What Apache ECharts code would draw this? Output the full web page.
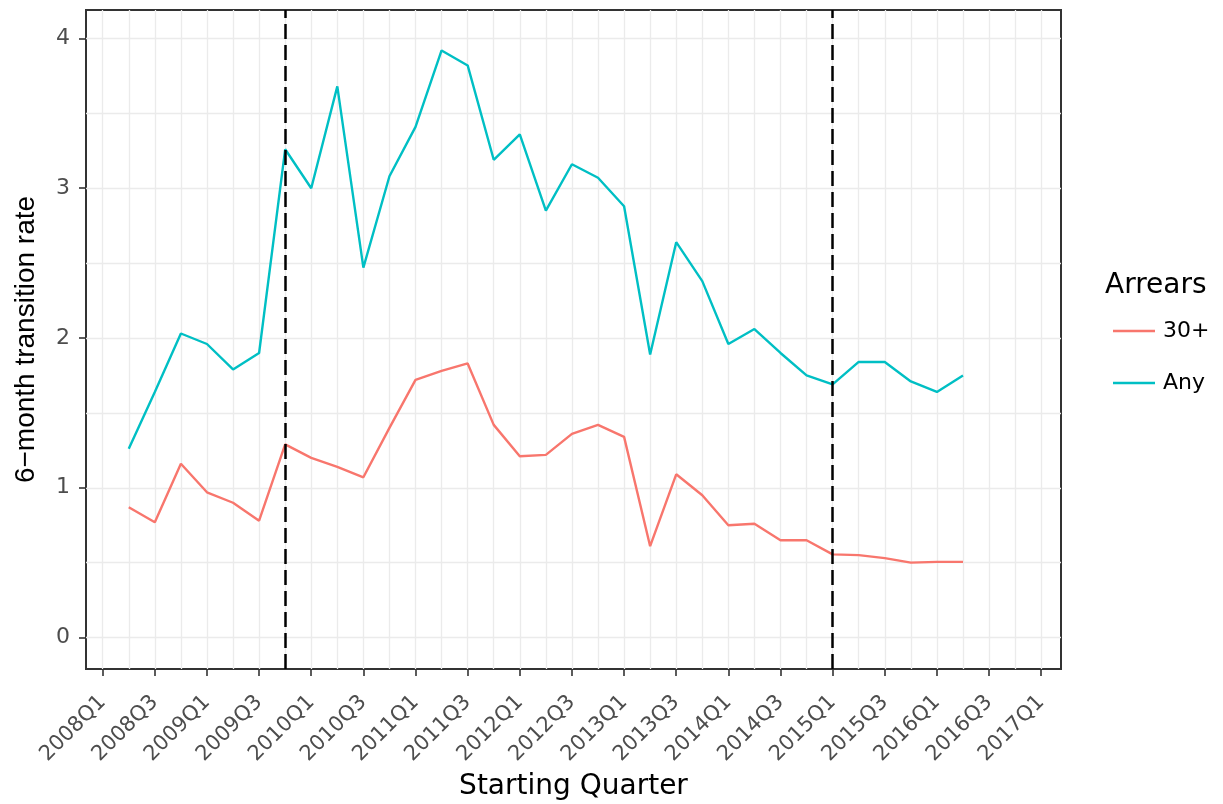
<!DOCTYPE html>
<html>
<head>
<meta charset="utf-8">
<script src="https://cdn.jsdelivr.net/npm/echarts@6/dist/echarts.min.js"></script>
<style>
  html, body { margin: 0; padding: 0; background: #ffffff; }
  #chart { width: 1223px; height: 804px; }
</style>
</head>
<body>
<div id="chart"></div>
<script>
// Starting quarter of each cohort
const quarters = [
  '2008Q2','2008Q3','2008Q4',
  '2009Q1','2009Q2','2009Q3','2009Q4',
  '2010Q1','2010Q2','2010Q3','2010Q4',
  '2011Q1','2011Q2','2011Q3','2011Q4',
  '2012Q1','2012Q2','2012Q3','2012Q4',
  '2013Q1','2013Q2','2013Q3','2013Q4',
  '2014Q1','2014Q2','2014Q3','2014Q4',
  '2015Q1','2015Q2','2015Q3','2015Q4',
  '2016Q1','2016Q2'
];

// 6-month transition rate, loans entering 30+ days arrears
const arrears30 = [
  0.87, 0.77, 1.16,
  0.97, 0.90, 0.78, 1.29,
  1.20, 1.14, 1.07, 1.40,
  1.72, 1.78, 1.83, 1.42,
  1.21, 1.22, 1.36, 1.42,
  1.34, 0.61, 1.09, 0.95,
  0.75, 0.76, 0.65, 0.65,
  0.555, 0.55, 0.53, 0.50,
  0.505, 0.505
];

// 6-month transition rate, loans entering any arrears
const arrearsAny = [
  1.26, 1.64, 2.03,
  1.96, 1.79, 1.90, 3.26,
  3.00, 3.68, 2.47, 3.08,
  3.41, 3.92, 3.82, 3.19,
  3.36, 2.85, 3.16, 3.07,
  2.88, 1.89, 2.64, 2.38,
  1.96, 2.06, 1.90, 1.75,
  1.69, 1.84, 1.84, 1.71,
  1.64, 1.75
];

// Labelled quarters on the x axis
const tickLabels = [
  '2008Q1','2008Q3','2009Q1','2009Q3','2010Q1','2010Q3','2011Q1','2011Q3',
  '2012Q1','2012Q3','2013Q1','2013Q3','2014Q1','2014Q3','2015Q1','2015Q3',
  '2016Q1','2016Q3','2017Q1'
];

// Labelled values on the y axis and the finer grid between them
const yTicks = [0, 1, 2, 3, 4];
const yGrid = [0, 0.5, 1, 1.5, 2, 2.5, 3, 3.5, 4];

// Quarters marked with dashed reference lines
const breakQuarters = ['2009Q4', '2015Q1'];

const seriesNames = ['30+', 'Any'];

// Quarter label -> number of quarters since 2008Q1
function qIndex(label) {
  const year = parseInt(label.slice(0, 4), 10);
  const q = parseInt(label.slice(5), 10);
  return (year - 2008) * 4 + (q - 1);
}

const FONT = 'DejaVu Sans';
const FONT_V = 'Liberation Sans';
const labelByIndex = {};
tickLabels.forEach(l => { labelByIndex[qIndex(l)] = l; });
const majorX = tickLabels.map(qIndex);
const minorX = [];
for (let i = majorX[0]; i <= majorX[majorX.length - 1]; i++) minorX.push(i);

const X_MIN = -0.64, X_MAX = 36.76;
const Y_MIN = -0.21, Y_MAX = 4.19;

const chart = echarts.init(document.getElementById('chart'), null, { renderer: 'canvas' });

const option = {
  animation: false,
  backgroundColor: '#ffffff',
  textStyle: { fontFamily: FONT },
  title: {
    text: 'Arrears',
    left: 1105,
    top: 272,
    padding: 0,
    textStyle: { fontFamily: FONT, fontSize: 28, fontWeight: 'normal', color: '#000000' }
  },
  legend: {
    orient: 'vertical',
    left: 1113,
    top: 320,
    itemWidth: 42,
    itemHeight: 2.5,
    itemGap: 30,
    icon: 'rect',
    padding: 0,
    data: seriesNames,
    textStyle: { fontFamily: FONT, fontSize: 22, color: '#000000', lineHeight: 22, padding: [0, 0, 0, 3] }
  },
  grid: {
    left: 86, right: 162, top: 10, bottom: 135,
    containLabel: false,
    outerBoundsMode: 'none',
    show: true,
    borderColor: '#333333',
    borderWidth: 2,
    backgroundColor: 'transparent'
  },
  xAxis: [
    {
      type: 'value', min: X_MIN, max: X_MAX, position: 'bottom',
      axisLine: { show: false, onZero: false },
      axisTick: { show: true, inside: false, length: 7, customValues: majorX, lineStyle: { color: '#333333', width: 1.6 } },
      axisLabel: {
        show: true, customValues: majorX, rotate: 45, margin: 30,
        fontFamily: FONT, fontSize: 21, color: '#4D4D4D',
        formatter: v => labelByIndex[Math.round(v)] || ''
      },
      splitLine: { show: false },
      name: 'Starting Quarter', nameLocation: 'middle', nameGap: 104, nameMoveOverlap: false,
      nameTextStyle: { fontFamily: FONT, fontSize: 28, color: '#000000' }
    },
    {
      type: 'value', min: X_MIN, max: X_MAX, position: 'bottom',
      axisLine: { show: false, onZero: false },
      axisTick: { show: false, customValues: minorX },
      axisLabel: { show: false },
      splitLine: { show: true, lineStyle: { color: '#EBEBEB', width: 1.3 } }
    }
  ],
  yAxis: [
    {
      type: 'value', min: Y_MIN, max: Y_MAX, position: 'left',
      axisLine: { show: false, onZero: false },
      axisTick: { show: true, inside: false, length: 7, customValues: yTicks, lineStyle: { color: '#333333', width: 1.6 } },
      axisLabel: { show: true, customValues: yTicks, margin: 16, fontFamily: FONT, fontSize: 22, color: '#4D4D4D' },
      splitLine: { show: false },
      name: '6\u2212month transition rate', nameLocation: 'middle', nameRotate: 90, nameGap: 46, nameMoveOverlap: false,
      nameTextStyle: { fontFamily: FONT_V, fontSize: 28, color: '#000000' }
    },
    {
      type: 'value', min: Y_MIN, max: Y_MAX, position: 'left',
      axisLine: { show: false, onZero: false },
      axisTick: { show: false, customValues: yGrid },
      axisLabel: { show: false },
      splitLine: { show: true, lineStyle: { color: '#EBEBEB', width: 1.3 } }
    }
  ],
  series: [
    {
      name: '30+', type: 'line', xAxisIndex: 0, yAxisIndex: 0,
      data: quarters.map((q, i) => [qIndex(q), arrears30[i]]),
      symbol: 'none', smooth: false,
      itemStyle: { color: '#F8766D' },
      lineStyle: { color: '#F8766D', width: 2.4 },
      z: 3
    },
    {
      name: 'Any', type: 'line', xAxisIndex: 0, yAxisIndex: 0,
      data: quarters.map((q, i) => [qIndex(q), arrearsAny[i]]),
      symbol: 'none', smooth: false,
      itemStyle: { color: '#00BFC4' },
      lineStyle: { color: '#00BFC4', width: 2.4 },
      z: 3,
      markLine: {
        silent: true, symbol: ['none', 'none'],
        label: { show: false },
        lineStyle: { color: '#000000', width: 2.5, type: [15, 6] },
        data: breakQuarters.map(q => ({ xAxis: qIndex(q) }))
      }
    }
  ]
};

chart.setOption(option);
</script>
</body>
</html>
